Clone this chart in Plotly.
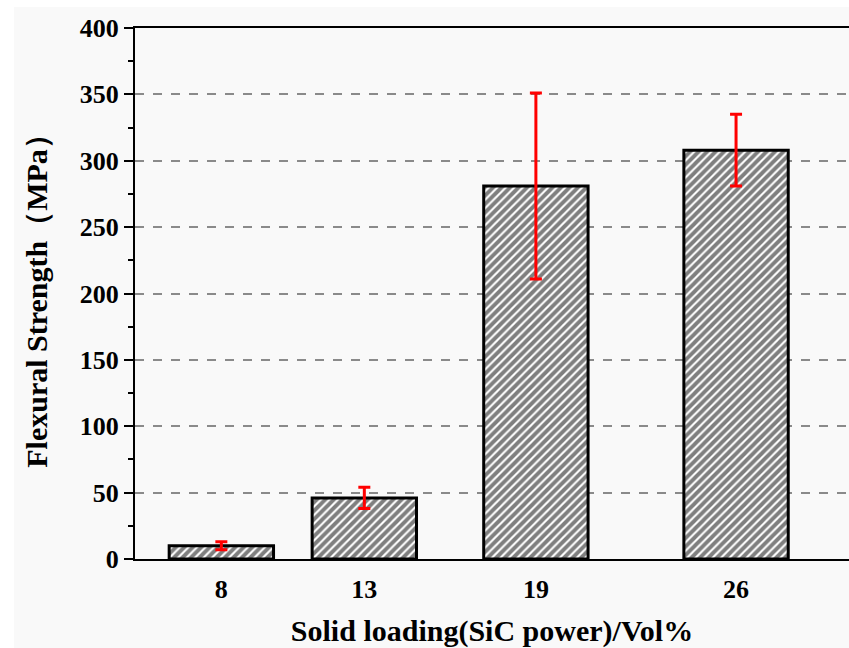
import plotly.graph_objects as go

loading = [8, 13, 19, 26]
strength = [10, 46, 281, 308]
err = [3, 8, 70, 27]
tick_labels = ["8", "13", "19", "26"]

FONT = "Liberation Serif"

fig = go.Figure()
fig.add_trace(go.Bar(
    x=loading, y=strength, width=3.65,
    marker=dict(color="white", line=dict(color="black", width=3),
                pattern=dict(shape="/", fgcolor="black", bgcolor="white", size=6, solidity=0.65)),
    error_y=dict(type="data", array=err, color="red", thickness=3, width=6),
    showlegend=False,
))

L, T, B = 135, 28, 89
W, H = 849, 648
pw = W - L
ph = H - T - B
fig.add_shape(type="rect", xref="paper", yref="paper", layer="below",
              x0=(14 - L) / pw, x1=1.05, y0=-(B + 10) / ph, y1=(H - B - 7) / ph,
              fillcolor="#f9f9f9", line=dict(width=0))

fig.update_layout(
    width=W, height=H,
    margin=dict(l=L, r=0, t=T, b=B, autoexpand=False),
    paper_bgcolor="white", plot_bgcolor="#f9f9f9",
    font=dict(family=FONT, color="black"),
    xaxis=dict(range=[4.98, 29.95], tickmode="array", tickvals=loading, ticktext=tick_labels,
               ticks="", showgrid=False, zeroline=False, showline=True, linecolor="black",
               linewidth=2, mirror=True, automargin=False, ticklabelstandoff=6,
               tickfont=dict(family=FONT, size=26, color="black", weight="bold"),
               title=dict(text="<b>Solid loading(SiC power)/Vol%</b>", font=dict(family=FONT, size=30),
                          standoff=19)),
    yaxis=dict(range=[0, 400], tick0=0, dtick=50, ticks="outside", ticklen=9, tickwidth=2,
               tickcolor="black", showline=True, linecolor="black", linewidth=2,
               showgrid=True, gridcolor="#8a8a8a", griddash="dash", gridwidth=1.5,
               zeroline=False, automargin=False,
               minor=dict(dtick=25, ticks="outside", ticklen=5, tickwidth=2, tickcolor="black", showgrid=False),
               tickfont=dict(family=FONT, size=26, color="black", weight="bold"),
               title=dict(text="<b>Flexural Strength（MPa）</b>", font=dict(family=FONT, size=30),
                          standoff=23)),
)

fig.write_html("out.html", config={"displayModeBar": False},
               post_script="document.body.style.margin='0';document.body.style.overflow='hidden';")
